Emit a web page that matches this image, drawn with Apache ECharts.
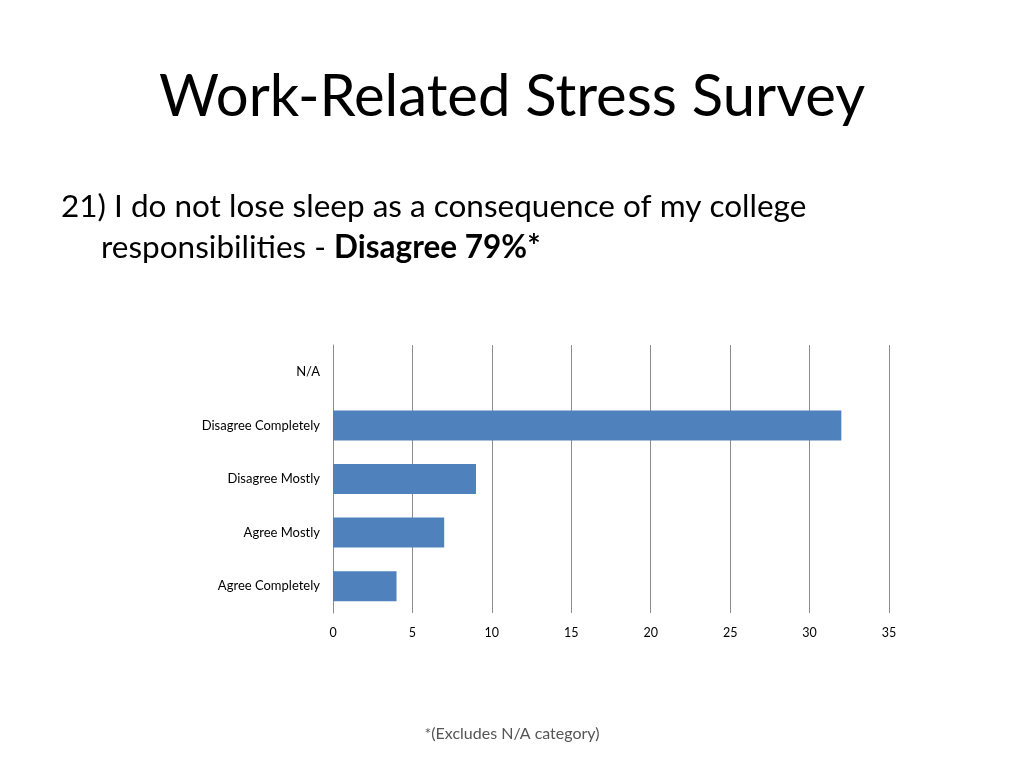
<!DOCTYPE html>
<html><head><meta charset="utf-8">
<script src="https://cdn.jsdelivr.net/npm/echarts@6/dist/echarts.min.js"></script>
<style>html,body{margin:0;padding:0;background:#fff}#c{width:1024px;height:768px}</style>
</head><body><div id="c"></div>
<script>
const categories = ['Agree Completely', 'Agree Mostly', 'Disagree Mostly', 'Disagree Completely', 'N/A'];
const responses = [4, 7, 9, 32, 0];
const xTicks = { min: 0, max: 35, interval: 5 };

const chart = echarts.init(document.getElementById('c'));
const F = 'Lato, "Open Sans", sans-serif';
chart.setOption({
  backgroundColor: '#ffffff',
  animation: false,
  title: [
    { text: 'Work-Related Stress Survey', left: 'center', top: 63,
      textStyle: { fontFamily: F, fontWeight: 'normal', fontSize: 58, color: '#000' } },
    { text: '21) I do not lose sleep as a consequence of my college', left: 56, top: 186,
      textStyle: { fontFamily: F, fontWeight: 'normal', fontSize: 31.5, color: '#000' } },
    { text: 'responsibilities - {b|Disagree 79%*}', left: 96, top: 227,
      textStyle: { fontFamily: F, fontWeight: 'normal', fontSize: 31.5, color: '#000',
        rich: { b: { fontFamily: F, fontWeight: 'bold', fontSize: 31.5, color: '#000' } } } },
    { text: '*(Excludes N/A category)', left: 'center', top: 721,
      textStyle: { fontFamily: F, fontWeight: 'normal', fontSize: 16, color: '#555' } }
  ],
  grid: { left: 333, right: 135, top: 345, bottom: 155, containLabel: false },
  xAxis: {
    type: 'value', min: xTicks.min, max: xTicks.max, interval: xTicks.interval,
    axisLine: { show: false }, axisTick: { show: false },
    splitLine: { show: true, lineStyle: { color: '#8c8c8c', width: 1 } },
    axisLabel: { fontFamily: F, fontSize: 12.5, color: '#000', margin: 13 }
  },
  yAxis: {
    type: 'category', data: categories,
    axisLine: { show: true, lineStyle: { color: '#8c8c8c' } },
    axisTick: { show: false },
    axisLabel: { fontFamily: F, fontSize: 13, color: '#000', margin: 13 }
  },
  series: [{
    type: 'bar', data: responses, barCategoryGap: '44%',
    itemStyle: { color: '#4F81BD' }
  }]
});
</script></body></html>
